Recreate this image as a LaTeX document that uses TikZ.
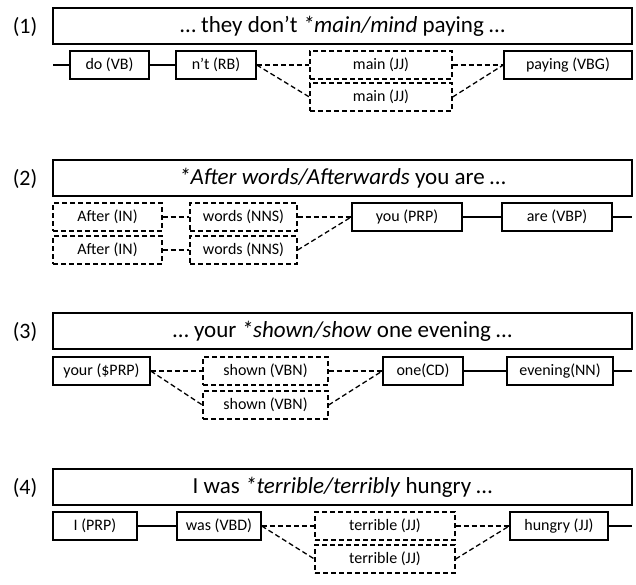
\documentclass[tikz,border=0pt]{standalone}
\usepackage{fontspec}
\setmainfont{Carlito}
\usepackage{tikz}
\usetikzlibrary{shapes,arrows}
\tikzstyle{sentence} = [rectangle,draw=black,line width=1.5pt,minimum width=579pt,minimum height=36pt,inner sep=0pt,font=\fontsize{23}{25}\selectfont]
\tikzstyle{tag} = [rectangle,draw=black,line width=1.5pt,minimum height=28pt,inner sep=0pt,font=\fontsize{16}{18}\selectfont]
\tikzstyle{cand} = [tag,line width=1.3pt,dash pattern=on 5pt off 3pt]
\tikzstyle{num} = [font=\fontsize{22}{24}\selectfont]
\tikzstyle{edge} = [line width=1.3pt]
\tikzstyle{alt} = [edge,dash pattern=on 5pt off 3pt]

\begin{document}
\begin{tikzpicture}[x=1pt,y=-1pt]
\useasboundingbox (0,0) rectangle (636,584);
% (1)
\node (num1) [num] at (25,27) {(1)};
\node (sent1) [sentence] at (342.5,26) {… they don’t \textit{*main/mind} paying …};
\coordinate (left1) at (53,65);
\node (do) [tag,minimum width=79pt] at (109.5,65) {do (VB)};
\node (nt) [tag,minimum width=80pt] at (216,65) {n’t (RB)};
\node (main1) [cand,minimum width=142pt] at (381,65) {main (JJ)};
\node (main2) [cand,minimum width=142pt] at (381,97) {main (JJ)};
\node (paying) [tag,minimum width=128pt] at (568,65) {paying (VBG)};
\draw [edge] (left1) -- (do);
\draw [edge] (do) -- (nt);
\draw [alt] (nt.east) -- (main1.west);
\draw [alt] (nt.east) -- (main2.west);
\draw [alt] (main1.east) -- (paying.west);
\draw [alt] (main2.east) -- (paying.west);

% (2)
\node (num2) [num] at (25,179) {(2)};
\node (sent2) [sentence] at (342.5,178) {\textit{*After words/Afterwards} you are …};
\node (after1) [cand,minimum width=109pt] at (107.5,217) {After (IN)};
\node (after2) [cand,minimum width=109pt] at (107.5,250) {After (IN)};
\node (words1) [cand,minimum width=107pt] at (243.5,217) {words (NNS)};
\node (words2) [cand,minimum width=107pt] at (243.5,250) {words (NNS)};
\node (you) [tag,minimum width=110pt] at (407,217) {you (PRP)};
\node (are) [tag,minimum width=110pt] at (557,217) {are (VBP)};
\coordinate (right2) at (632,217);
\draw [alt] (after1.east) -- (words1.west);
\draw [alt] (after2.east) -- (words2.west);
\draw [alt] (words1.east) -- (you.west);
\draw [alt] (words2.east) -- (you.west);
\draw [edge] (you) -- (are);
\draw [edge] (are) -- (right2);

% (3)
\node (num3) [num] at (25,332) {(3)};
\node (sent3) [sentence] at (342.5,331) {… your \textit{*shown/show} one evening …};
\node (your) [tag,minimum width=97pt] at (101.5,371) {your (\$PRP)};
\node (shown1) [cand,minimum width=125pt] at (265.5,371) {shown (VBN)};
\node (shown2) [cand,minimum width=125pt] at (265.5,405) {shown (VBN)};
\node (one) [tag,minimum width=80pt] at (423,371) {one(CD)};
\node (evening) [tag,minimum width=106pt] at (560,371) {evening(NN)};
\coordinate (right3) at (632,371);
\draw [alt] (your.east) -- (shown1.west);
\draw [alt] (your.east) -- (shown2.west);
\draw [alt] (shown1.east) -- (one.west);
\draw [alt] (shown2.east) -- (one.west);
\draw [edge] (one) -- (evening);
\draw [edge] (evening) -- (right3);

% (4)
\node (num4) [num] at (25,488) {(4)};
\node (sent4) [sentence] at (342.5,487) {I was \textit{*terrible/terribly} hungry …};
\node (i) [tag,minimum width=84pt] at (95,526) {I (PRP)};
\node (was) [tag,minimum width=84pt] at (219,526) {was (VBD)};
\node (terrible1) [cand,minimum width=140pt] at (385,526) {terrible (JJ)};
\node (terrible2) [cand,minimum width=140pt] at (385,559) {terrible (JJ)};
\node (hungry) [tag,minimum width=98pt] at (559,526) {hungry (JJ)};
\coordinate (right4) at (632,526);
\draw [edge] (i) -- (was);
\draw [alt] (was.east) -- (terrible1.west);
\draw [alt] (was.east) -- (terrible2.west);
\draw [alt] (terrible1.east) -- (hungry.west);
\draw [alt] (terrible2.east) -- (hungry.west);
\draw [edge] (hungry) -- (right4);
\end{tikzpicture}
\end{document}
